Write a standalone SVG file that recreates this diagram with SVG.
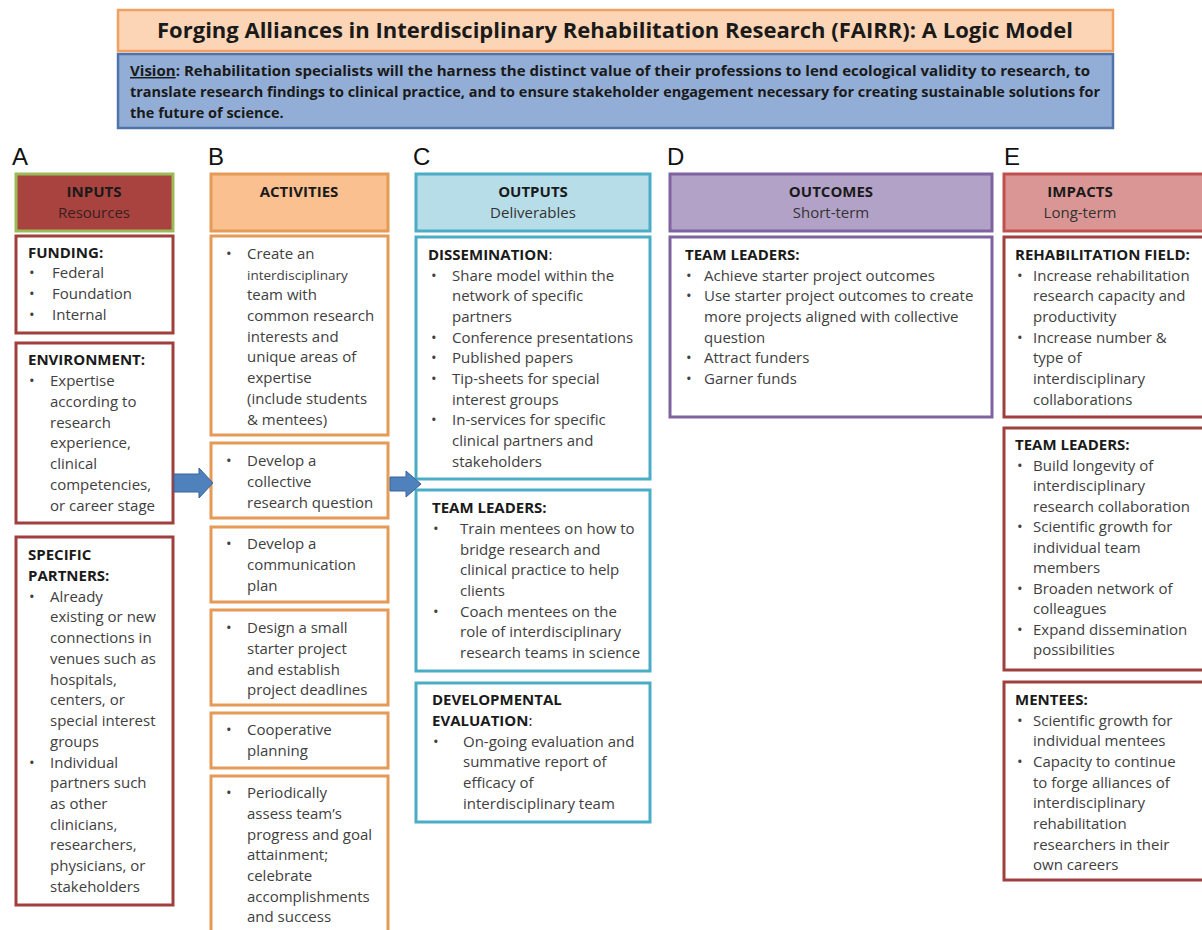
<svg xmlns="http://www.w3.org/2000/svg" width="1202" height="930" viewBox="0 0 1202 930">
<style>
text{font-family:"Open Sans","Liberation Sans",sans-serif;}
.t{font-size:15px;fill:#404040;}
.s{font-size:13.5px;fill:#404040;}
.h{font-size:15px;font-weight:bold;fill:#1a1a1a;}
.hc{font-size:15px;font-weight:bold;fill:#1a1a1a;text-anchor:middle;}
.sc{font-size:15px;fill:#333;text-anchor:middle;}
.let{font-family:"Liberation Sans",Arial,sans-serif;font-size:24px;fill:#111;}
.title{font-size:21.5px;font-weight:bold;fill:#1a1a1a;}
.vis{font-size:14.5px;font-weight:bold;fill:#1a1a1a;}
.bx{fill:#fff;stroke-width:3;}
.ra{stroke:#a0403e;}
.ob{stroke:#e59a56;}
.cb{stroke:#4bacc6;}
.pb{stroke:#7f63a1;}
.arrow{fill:#4f81bd;stroke:#3a6398;stroke-width:1;}
</style>

<g id="title">
<rect x="118" y="10" width="995" height="41" fill="#fbd5b5" stroke="#f0a060" stroke-width="2.5"/>
<text class="title" x="157" y="38" textLength="916" lengthAdjust="spacingAndGlyphs">Forging Alliances in Interdisciplinary Rehabilitation Research (FAIRR): A Logic Model</text>
</g>
<g id="vision">
<rect x="118" y="54" width="995" height="74" fill="#93aed6" stroke="#4f73a8" stroke-width="2.5"/>
<text class="vis" x="130" y="76" textLength="960" lengthAdjust="spacingAndGlyphs"><tspan text-decoration="underline">Vision</tspan>: Rehabilitation specialists will the harness the distinct value of their professions to lend ecological validity to research, to</text>
<text class="vis" x="130" y="97" textLength="970" lengthAdjust="spacingAndGlyphs">translate research findings to clinical practice, and to ensure stakeholder engagement necessary for creating sustainable solutions for</text>
<text class="vis" x="130" y="118">the future of science.</text>
</g>

<g id="letters">
<text class="let" x="12" y="165">A</text>
<text class="let" x="208" y="165">B</text>
<text class="let" x="413" y="165">C</text>
<text class="let" x="667" y="165">D</text>
<text class="let" x="1004" y="165">E</text>
</g>

<!-- Column A -->
<g id="inputs-header">
<rect x="16" y="174" width="157" height="57" fill="#a8433f" stroke="#9bbb59" stroke-width="3"/>
<text class="hc" x="94" y="197">INPUTS</text>
<text class="sc" x="94" y="218" style="fill:#3a2020">Resources</text>
</g>
<g id="funding">
<rect class="bx ra" x="16" y="236" width="157" height="97"/>
<text class="h" x="28" y="258">FUNDING:</text>
<text class="t" x="29" y="278">•</text><text class="t" x="52" y="278">Federal</text>
<text class="t" x="29" y="299">•</text><text class="t" x="52" y="299">Foundation</text>
<text class="t" x="29" y="320">•</text><text class="t" x="52" y="320">Internal</text>
</g>
<g id="environment">
<rect class="bx ra" x="16" y="343" width="157" height="180"/>
<text class="h" x="28" y="365">ENVIRONMENT:</text>
<text class="t" x="29" y="386">•</text>
<text class="t" x="50" y="386">Expertise</text>
<text class="t" x="50" y="407">according to</text>
<text class="t" x="50" y="428">research</text>
<text class="t" x="50" y="448">experience,</text>
<text class="t" x="50" y="469">clinical</text>
<text class="t" x="50" y="490">competencies,</text>
<text class="t" x="50" y="511">or career stage</text>
</g>
<g id="specific-partners">
<rect class="bx ra" x="16" y="537" width="157" height="368"/>
<text class="h" x="28" y="560">SPECIFIC</text>
<text class="h" x="28" y="581">PARTNERS:</text>
<text class="t" x="29" y="602">•</text>
<text class="t" x="50" y="602">Already</text>
<text class="t" x="50" y="622">existing or new</text>
<text class="t" x="50" y="643">connections in</text>
<text class="t" x="50" y="664">venues such as</text>
<text class="t" x="50" y="685">hospitals,</text>
<text class="t" x="50" y="705">centers, or</text>
<text class="t" x="50" y="726">special interest</text>
<text class="t" x="50" y="747">groups</text>
<text class="t" x="29" y="768">•</text>
<text class="t" x="50" y="768">Individual</text>
<text class="t" x="50" y="788">partners such</text>
<text class="t" x="50" y="809">as other</text>
<text class="t" x="50" y="830">clinicians,</text>
<text class="t" x="50" y="850">researchers,</text>
<text class="t" x="50" y="871">physicians, or</text>
<text class="t" x="50" y="892">stakeholders</text>
</g>

<!-- Column B -->
<g id="activities-header">
<rect x="211" y="174" width="177" height="57" fill="#fac090" stroke="#e59a56" stroke-width="3"/>
<text class="hc" x="299" y="197">ACTIVITIES</text>
</g>
<g id="act-team">
<rect class="bx ob" x="211" y="236" width="177" height="199"/>
<text class="t" x="226" y="259">•</text>
<text class="t" x="247" y="259">Create an</text>
<text class="s" x="247" y="280">interdisciplinary</text>
<text class="t" x="247" y="300">team with</text>
<text class="t" x="247" y="321">common research</text>
<text class="t" x="247" y="342">interests and</text>
<text class="t" x="247" y="362">unique areas of</text>
<text class="t" x="247" y="383">expertise</text>
<text class="t" x="247" y="404">(include students</text>
<text class="t" x="247" y="425">&amp; mentees)</text>
</g>
<g id="act-question">
<rect class="bx ob" x="211" y="443" width="177" height="75"/>
<text class="t" x="226" y="466">•</text>
<text class="t" x="247" y="466">Develop a</text>
<text class="t" x="247" y="487">collective</text>
<text class="t" x="247" y="508">research question</text>
</g>
<g id="act-communication">
<rect class="bx ob" x="211" y="527" width="177" height="75"/>
<text class="t" x="226" y="549">•</text>
<text class="t" x="247" y="549">Develop a</text>
<text class="t" x="247" y="570">communication</text>
<text class="t" x="247" y="591">plan</text>
</g>
<g id="act-starter">
<rect class="bx ob" x="211" y="610" width="177" height="95"/>
<text class="t" x="226" y="633">•</text>
<text class="t" x="247" y="633">Design a small</text>
<text class="t" x="247" y="654">starter project</text>
<text class="t" x="247" y="675">and establish</text>
<text class="t" x="247" y="695">project deadlines</text>
</g>
<g id="act-cooperative">
<rect class="bx ob" x="211" y="713" width="177" height="55"/>
<text class="t" x="226" y="735">•</text>
<text class="t" x="247" y="735">Cooperative</text>
<text class="t" x="247" y="756">planning</text>
</g>
<g id="act-assess">
<rect class="bx ob" x="211" y="776" width="177" height="170"/>
<text class="t" x="226" y="798">•</text>
<text class="t" x="247" y="798">Periodically</text>
<text class="t" x="247" y="819">assess team’s</text>
<text class="t" x="247" y="840">progress and goal</text>
<text class="t" x="247" y="860">attainment;</text>
<text class="t" x="247" y="881">celebrate</text>
<text class="t" x="247" y="902">accomplishments</text>
<text class="t" x="247" y="922">and success</text>
</g>

<!-- Column C -->
<g id="outputs-header">
<rect x="416" y="174" width="234" height="57" fill="#b7dde8" stroke="#4bacc6" stroke-width="3"/>
<text class="hc" x="533" y="197">OUTPUTS</text>
<text class="sc" x="533" y="218">Deliverables</text>
</g>
<g id="dissemination">
<rect class="bx cb" x="416" y="237" width="234" height="242"/>
<text class="h" x="428" y="260">DISSEMINATION<tspan style="font-weight:normal">:</tspan></text>
<text class="t" x="431" y="281">•</text>
<text class="t" x="452" y="281">Share model within the</text>
<text class="t" x="452" y="301">network of specific</text>
<text class="t" x="452" y="322">partners</text>
<text class="t" x="431" y="343">•</text>
<text class="t" x="452" y="343">Conference presentations</text>
<text class="t" x="431" y="363">•</text>
<text class="t" x="452" y="363">Published papers</text>
<text class="t" x="431" y="384">•</text>
<text class="t" x="452" y="384">Tip-sheets for special</text>
<text class="t" x="452" y="405">interest groups</text>
<text class="t" x="431" y="425">•</text>
<text class="t" x="452" y="425">In-services for specific</text>
<text class="t" x="452" y="446">clinical partners and</text>
<text class="t" x="452" y="467">stakeholders</text>
</g>
<g id="output-team-leaders">
<rect class="bx cb" x="416" y="490" width="234" height="181"/>
<text class="h" x="432" y="513">TEAM LEADERS:</text>
<text class="t" x="433" y="534">•</text>
<text class="t" x="460" y="534">Train mentees on how to</text>
<text class="t" x="460" y="555">bridge research and</text>
<text class="t" x="460" y="575">clinical practice to help</text>
<text class="t" x="460" y="596">clients</text>
<text class="t" x="433" y="617">•</text>
<text class="t" x="460" y="617">Coach mentees on the</text>
<text class="t" x="460" y="637">role of interdisciplinary</text>
<text class="t" x="460" y="658">research teams in science</text>
</g>
<g id="developmental-evaluation">
<rect class="bx cb" x="416" y="683" width="234" height="139"/>
<text class="h" x="432" y="705">DEVELOPMENTAL</text>
<text class="h" x="432" y="726">EVALUATION<tspan style="font-weight:normal">:</tspan></text>
<text class="t" x="433" y="747">•</text>
<text class="t" x="463" y="747">On-going evaluation and</text>
<text class="t" x="463" y="767">summative report of</text>
<text class="t" x="463" y="788">efficacy of</text>
<text class="t" x="463" y="809">interdisciplinary team</text>
</g>

<!-- Column D -->
<g id="outcomes-header">
<rect x="670" y="174" width="322" height="57" fill="#b3a2c7" stroke="#7f63a1" stroke-width="3"/>
<text class="hc" x="831" y="197">OUTCOMES</text>
<text class="sc" x="831" y="218">Short-term</text>
</g>
<g id="outcomes-team-leaders">
<rect class="bx pb" x="670" y="237" width="322" height="180"/>
<text class="h" x="685" y="260">TEAM LEADERS:</text>
<text class="t" x="686" y="281">•</text>
<text class="t" x="704" y="281">Achieve starter project outcomes</text>
<text class="t" x="686" y="301">•</text>
<text class="t" x="704" y="301">Use starter project outcomes to create</text>
<text class="t" x="704" y="322">more projects aligned with collective</text>
<text class="t" x="704" y="343">question</text>
<text class="t" x="686" y="363">•</text>
<text class="t" x="704" y="363">Attract funders</text>
<text class="t" x="686" y="384">•</text>
<text class="t" x="704" y="384">Garner funds</text>
</g>

<!-- Column E -->
<g id="impacts-header">
<rect x="1004" y="174" width="211" height="57" fill="#d99694" stroke="#c0504d" stroke-width="3"/>
<text class="hc" x="1080" y="197">IMPACTS</text>
<text class="sc" x="1080" y="218">Long-term</text>
</g>
<g id="rehabilitation-field">
<rect class="bx ra" x="1004" y="237" width="211" height="180"/>
<text class="h" x="1015" y="260">REHABILITATION FIELD:</text>
<text class="t" x="1017" y="281">•</text>
<text class="t" x="1033" y="281">Increase rehabilitation</text>
<text class="t" x="1033" y="301">research capacity and</text>
<text class="t" x="1033" y="322">productivity</text>
<text class="t" x="1017" y="343">•</text>
<text class="t" x="1033" y="343">Increase number &amp;</text>
<text class="t" x="1033" y="363">type of</text>
<text class="t" x="1033" y="384">interdisciplinary</text>
<text class="t" x="1033" y="405">collaborations</text>
</g>
<g id="impacts-team-leaders">
<rect class="bx ra" x="1004" y="428" width="211" height="242"/>
<text class="h" x="1015" y="450">TEAM LEADERS:</text>
<text class="t" x="1017" y="471">•</text>
<text class="t" x="1033" y="471">Build longevity of</text>
<text class="t" x="1033" y="491">interdisciplinary</text>
<text class="t" x="1033" y="512">research collaboration</text>
<text class="t" x="1017" y="532">•</text>
<text class="t" x="1033" y="532">Scientific growth for</text>
<text class="t" x="1033" y="553">individual team</text>
<text class="t" x="1033" y="573">members</text>
<text class="t" x="1017" y="594">•</text>
<text class="t" x="1033" y="594">Broaden network of</text>
<text class="t" x="1033" y="614">colleagues</text>
<text class="t" x="1017" y="635">•</text>
<text class="t" x="1033" y="635">Expand dissemination</text>
<text class="t" x="1033" y="655">possibilities</text>
</g>
<g id="mentees">
<rect class="bx ra" x="1004" y="682" width="211" height="198"/>
<text class="h" x="1015" y="705">MENTEES:</text>
<text class="t" x="1017" y="726">•</text>
<text class="t" x="1033" y="726"> Scientific growth for</text>
<text class="t" x="1033" y="746">individual mentees</text>
<text class="t" x="1017" y="767">•</text>
<text class="t" x="1033" y="767">Capacity to continue</text>
<text class="t" x="1033" y="788">to forge alliances of</text>
<text class="t" x="1033" y="808">interdisciplinary</text>
<text class="t" x="1033" y="829">rehabilitation</text>
<text class="t" x="1033" y="850">researchers in their</text>
<text class="t" x="1033" y="870">own careers</text>
</g>

<g id="connectors">
<polygon class="arrow" points="174,474 199,474 199,468 213,483 199,498 199,492 174,492"/>
<polygon class="arrow" points="390,477 406,477 406,471 421,484 406,497 406,491 390,491"/>
</g>
</svg>
